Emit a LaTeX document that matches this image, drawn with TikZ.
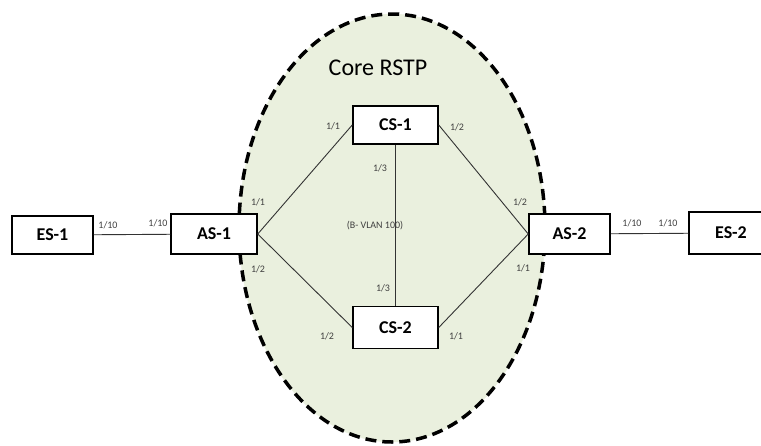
\documentclass[tikz,border=0pt]{standalone}
\usepackage{fontspec}
\setmainfont{Carlito}
\usetikzlibrary{positioning}
\definecolor{corefill}{RGB}{234,240,222}
\begin{document}
\begin{tikzpicture}[x=1pt, y=-1pt,
  switch/.style={draw, line width=1.5pt, fill=white, minimum width=84pt,
    minimum height=40pt, inner sep=0pt, font=\fontsize{18}{18}\selectfont\bfseries},
  port/.style={font=\fontsize{10}{10}\selectfont, text=black!75, inner sep=0pt},
  link/.style={line width=0.9pt, black!80}]
  \useasboundingbox (0,0) rectangle (761,445);
  % core ring
  \draw[corefill, fill=corefill] (392,228) ellipse [x radius=153, y radius=214];
  \draw[line width=3.5pt, dash pattern=on 11pt off 6pt] (392,228) ellipse [x radius=153, y radius=214];
  \node[font=\fontsize{24}{24}\selectfont] (core) at (378,68) {Core RSTP};
  % switches
  \node[switch, minimum width=81pt, minimum height=38pt] (es1) at (52.5,235) {ES-1};
  \node[switch, minimum width=86pt] (as1) at (214,234) {AS-1};
  \node[switch, minimum width=85pt, minimum height=38pt] (cs1) at (395.5,125) {CS-1};
  \node[switch, minimum width=85pt, minimum height=42pt] (cs2) at (395.5,327.5) {CS-2};
  \node[switch, minimum width=81pt] (as2) at (569.5,234) {AS-2};
  \node[switch, minimum width=84pt, minimum height=42pt] (es2) at (731,233) {ES-2};
  % links
  \draw[link] (es1) -- (as1);
  \draw[link] (as1.east) -- (cs1.west);
  \draw[link] (as1.east) -- (cs2.west);
  \draw[link] (cs1.east) -- (as2.west);
  \draw[link] (cs2.east) -- (as2.west);
  \draw[link] (cs1) -- (cs2);
  \draw[link] (as2) -- (es2);
  % port numbers
  \node[port] (p1) at (108,225) {1/10};
  \node[port] (p2) at (158,223) {1/10};
  \node[port] (p3) at (258,202) {1/1};
  \node[port] (p4) at (258,269) {1/2};
  \node[port] (p5) at (333,126) {1/1};
  \node[port] (p6) at (457,127) {1/2};
  \node[port] (p7) at (380,168) {1/3};
  \node[port] (p8) at (383,288) {1/3};
  \node[port] (p9) at (327,336) {1/2};
  \node[port] (p10) at (456,336) {1/1};
  \node[port] (p11) at (520,202) {1/2};
  \node[port] (p12) at (523,268) {1/1};
  \node[port] (p13) at (632,223) {1/10};
  \node[port] (p14) at (668,223) {1/10};
  \node[port] (vlan) at (375,226) {(B- VLAN 100)};
\end{tikzpicture}
\end{document}
